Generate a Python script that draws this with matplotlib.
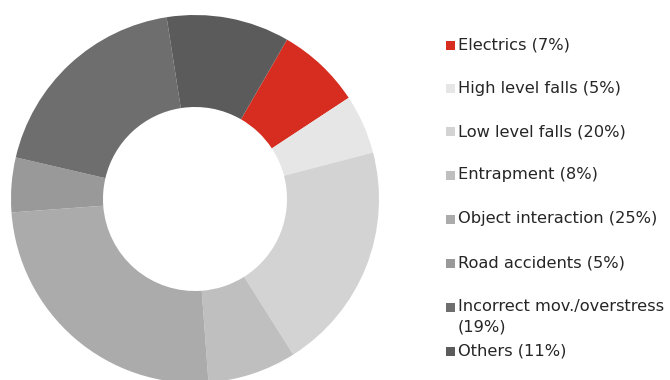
import matplotlib
matplotlib.use("Agg")
import matplotlib.pyplot as plt
from matplotlib.patches import Rectangle

categories = ["Electrics (7%)", "High level falls (5%)", "Low level falls (20%)",
              "Entrapment (8%)", "Object interaction (25%)", "Road accidents (5%)",
              "Incorrect mov./overstress\n(19%)", "Others (11%)"]
values = [7.4, 5.2, 20.1, 7.8, 25.0, 4.8, 18.9, 10.8]
colors = ["#D62D20", "#E6E6E6", "#D3D3D3", "#BFBFBF", "#ABABAB", "#999999",
          "#6E6E6E", "#5B5B5B"]

W, H = 670, 380
fig = plt.figure(figsize=(6.7, 3.8), dpi=100)
cx, cy, r = 195, 199, 184
ax = fig.add_axes([(cx - r) / W, (H - cy - r) / H, 2 * r / W, 2 * r / H])
ax.pie(values, colors=colors, startangle=60, counterclock=False, radius=1,
       wedgeprops=dict(width=0.5, linewidth=0))
ax.set_xlim(-1, 1)
ax.set_ylim(-1, 1)
ax.set_axis_off()

# legend (text centre y in pixels)
ys = [45, 88, 132, 175, 219, 263, 307, 351]
for lab, col, y in zip(categories, colors, ys):
    fig.patches.append(Rectangle((446 / W, (H - y - 4.5) / H), 9 / W, 9 / H,
                                 transform=fig.transFigure, facecolor=col,
                                 edgecolor="none"))
    for i, line in enumerate(lab.split("\n")):
        fig.text(458 / W, (H - y - i * 19.5) / H, line, fontsize=11.7,
                 color="#262626", va="center", family="DejaVu Sans")

fig.savefig("out.png", dpi=100)
